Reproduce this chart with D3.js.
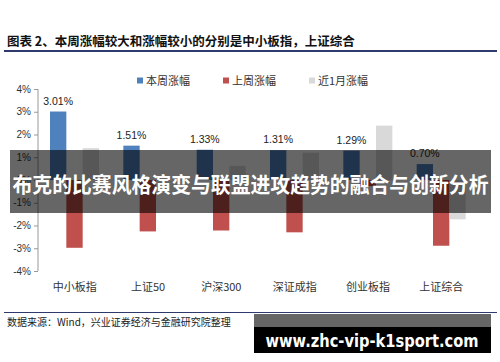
<!DOCTYPE html>
<html>
<head>
<meta charset="utf-8">
<script src="https://cdn.jsdelivr.net/npm/d3@7"></script>
<style>
  body { margin: 0; background: #fff; }
  svg { display: block; }
  .tick text { font-family: "Liberation Sans", Arial, sans-serif; font-size: 10px; fill: #333; }
  .tick line, .domain { stroke: #999; }
</style>
</head>
<body>
<div id="chart"></div>
<script>
// data
var categories = ["中小板指", "上证50", "沪深300", "深证成指", "创业板指", "上证综合"];
var seriesNames = ["本周涨幅", "上周涨幅", "近1月涨幅"];
var thisWeek = [3.01, 1.51, 1.33, 1.31, 1.29, 0.70];
var lastWeek = [-2.98, -2.26, -2.22, -2.30, -0.27, -2.89];
var lastMonth = [1.40, 0.00, 0.62, 1.20, 2.39, -1.73];
var yTicks = [-4, -3, -2, -1, 0, 1, 2, 3, 4];
var colors = ["#4f81bd", "#c0504d", "#d9d9d9"];

var svgWidth = 500, svgHeight = 362;
var svg = d3.select("#chart").append("svg")
    .attr("width", svgWidth)
    .attr("height", svgHeight);

// title + rule
svg.append("text")
    .attr("x", 7).attr("y", 46)
    .attr("font-family", "'Noto Sans CJK SC', sans-serif")
    .attr("font-weight", "bold")
    .attr("font-size", 12.5)
    .attr("fill", "#111")
    .text("图表 2、本周涨幅较大和涨幅较小的分别是中小板指，上证综合");
svg.append("line")
    .attr("x1", 4).attr("x2", 497).attr("y1", 51).attr("y2", 51)
    .attr("stroke", "#2e3a6b").attr("stroke-width", 2);

// scales
var x = d3.scaleBand().domain(categories).range([38, 478]);
var xSub = d3.scaleBand().domain(seriesNames).range([12, 61]);
var y = d3.scaleLinear().domain([-4, 4]).range([271, 89]);

// y axis
var yAxis = svg.append("g")
    .attr("transform", "translate(38,0)")
    .call(d3.axisLeft(y).tickValues(yTicks).tickSize(4).tickPadding(3).tickFormat(d => d + "%"));
yAxis.select(".domain").attr("d", "M0," + y(4) + "V" + y(-4));

// bars
var table = categories.map(function(c, i) {
  return { cat: c, values: [thisWeek[i], lastWeek[i], lastMonth[i]] };
});

var groups = svg.selectAll(".grp")
    .data(table)
    .enter().append("g")
    .attr("class", "grp")
    .attr("transform", d => "translate(" + x(d.cat) + ",0)");

groups.selectAll("rect")
    .data(d => d.values.map((v, j) => ({ s: seriesNames[j], v: v, j: j })))
    .enter().append("rect")
    .attr("x", d => xSub(d.s))
    .attr("width", xSub.bandwidth())
    .attr("y", d => y(Math.max(0, d.v)))
    .attr("height", d => Math.abs(y(d.v) - y(0)))
    .attr("fill", d => colors[d.j]);

// value labels on this week's bars
groups.append("text")
    .attr("x", d => xSub(seriesNames[0]) + xSub.bandwidth() / 2)
    .attr("y", d => y(d.values[0]) - 7)
    .attr("text-anchor", "middle")
    .attr("font-family", "'Liberation Sans', Arial, sans-serif")
    .attr("font-size", 10.5)
    .attr("fill", "#222")
    .text(d => d.values[0].toFixed(2) + "%");

// category labels
svg.selectAll(".cat")
    .data(categories)
    .enter().append("text")
    .attr("class", "cat")
    .attr("x", d => x(d) + x.bandwidth() / 2)
    .attr("y", 291)
    .attr("text-anchor", "middle")
    .attr("font-family", "'Noto Sans CJK SC', sans-serif")
    .attr("font-size", 11)
    .attr("fill", "#333")
    .text(d => d);

// legend
var legendX = [137, 223, 309];
var legend = svg.selectAll(".leg")
    .data(seriesNames)
    .enter().append("g")
    .attr("class", "leg")
    .attr("transform", (d, i) => "translate(" + legendX[i] + ",81)");
legend.append("rect")
    .attr("x", 0).attr("y", -3.5).attr("width", 6).attr("height", 6)
    .attr("fill", (d, i) => colors[i]);
legend.append("text")
    .attr("x", 9).attr("y", 4)
    .attr("font-family", "'Noto Sans CJK SC', sans-serif")
    .attr("font-size", 11)
    .attr("fill", "#333")
    .text(d => d);

// source line
svg.append("line")
    .attr("x1", 4).attr("x2", 497).attr("y1", 312.5).attr("y2", 312.5)
    .attr("stroke", "#2e3a6b").attr("stroke-width", 1);
svg.append("text")
    .attr("x", 7).attr("y", 326)
    .attr("font-family", "'Noto Sans CJK SC', sans-serif")
    .attr("font-size", 10)
    .attr("fill", "#222")
    .text("数据来源：Wind，兴业证券经济与金融研究院整理");

// banner overlay
svg.append("rect")
    .attr("x", 10).attr("y", 150).attr("width", 481).attr("height", 63)
    .attr("fill", "#000").attr("opacity", 0.6);
svg.append("text")
    .attr("x", 250.5).attr("y", 192)
    .attr("text-anchor", "middle")
    .attr("textLength", 476)
    .attr("lengthAdjust", "spacingAndGlyphs")
    .attr("font-family", "'Noto Sans CJK SC', sans-serif")
    .attr("font-weight", "bold")
    .attr("font-size", 21)
    .attr("fill", "#fff")
    .text("布克的比赛风格演变与联盟进攻趋势的融合与创新分析");

// watermark box
svg.append("rect")
    .attr("x", 254).attr("y", 314).attr("width", 237).attr("height", 13)
    .attr("fill", "#666");
svg.append("rect")
    .attr("x", 254).attr("y", 327).attr("width", 237).attr("height", 26)
    .attr("fill", "#000");
svg.append("text")
    .attr("x", 372).attr("y", 347)
    .attr("text-anchor", "middle")
    .attr("textLength", 213)
    .attr("lengthAdjust", "spacingAndGlyphs")
    .attr("font-family", "'DejaVu Sans', sans-serif")
    .attr("font-weight", "bold")
    .attr("font-size", 17)
    .attr("fill", "#fff")
    .text("www.zhc-vip-k1sport.com");
</script>
</body>
</html>
